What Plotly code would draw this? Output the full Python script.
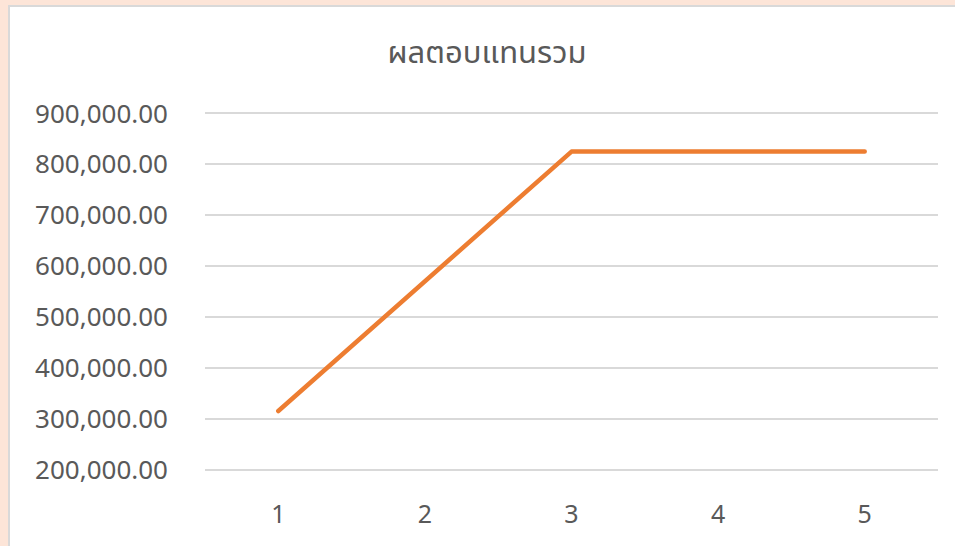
import plotly.graph_objects as go

categories = ["1", "2", "3", "4", "5"]
values = [315000, 570000, 825000, 825000, 825000]
y_ticks = [200000, 300000, 400000, 500000, 600000, 700000, 800000, 900000]
y_tick_labels = [f"{v:,.2f}" for v in y_ticks]
title_text = "ผลตอบแทนรวม"

FONT = "Noto Sans Thai, Noto Sans, DejaVu Sans, sans-serif"
TXT = "#595959"

fig = go.Figure()
fig.add_trace(go.Scatter(
    x=[1, 2, 3, 4, 5], y=values, mode="lines",
    line=dict(color="#ED7D31", width=4.5),
    hoverinfo="skip", showlegend=False,
))

L, R, T, B = 205, 17, 112, 72
pad = 2900
fig.update_layout(
    width=955, height=546,
    margin=dict(l=L, r=R, t=T, b=B),
    paper_bgcolor="#FDE5D8",
    plot_bgcolor="white",
    title=dict(text=title_text, x=487/955, xref="container", xanchor="center",
               y=1-52/546, yref="container", yanchor="middle",
               font=dict(family=FONT, size=31, color=TXT)),
    xaxis=dict(range=[0.5, 5.5], tickvals=[1, 2, 3, 4, 5], ticktext=categories,
               showgrid=False, zeroline=False, showline=False, ticks="",
               ticklabelstandoff=26,
               tickfont=dict(family=FONT, size=25, color=TXT), fixedrange=True),
    yaxis=dict(range=[200000 - pad, 900000 + pad], tickvals=y_ticks, ticktext=y_tick_labels,
               showgrid=True, gridcolor="#D9D9D9", gridwidth=1.5,
               zeroline=False, showline=False, ticks="",
               ticklabelstandoff=36,
               tickfont=dict(family=FONT, size=26, color=TXT), fixedrange=True),
    shapes=[dict(type="rect", xref="paper", yref="paper",
                 xsizemode="pixel", ysizemode="pixel", xanchor=0, yanchor=1,
                 x0=9-L, x1=962-L, y0=T-6, y1=T-560,
                 fillcolor="white", line=dict(color="#D9D9D9", width=2),
                 layer="below")],
)

post = (
    "document.body.style.margin='0';document.body.style.padding='0';"
    "document.querySelectorAll('.scatterlayer path.js-line').forEach(function(p){"
    "p.style.strokeLinecap='round';p.style.strokeLinejoin='round';});"
)
fig.write_html("out.html", config={"displayModeBar": False}, post_script=post)
